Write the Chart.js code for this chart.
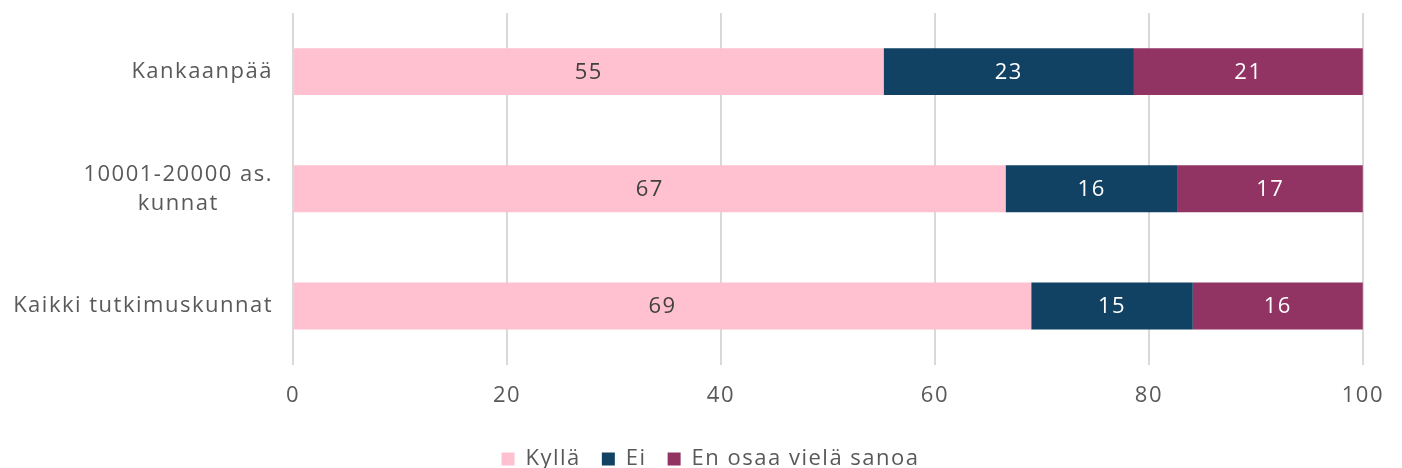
<!DOCTYPE html>
<html>
<head>
<meta charset="utf-8">
<script src="https://cdn.jsdelivr.net/npm/chart.js@4"></script>
<style>
  html, body { margin: 0; padding: 0; background: #fff; }
  #wrap { width: 1402px; height: 468px; }
</style>
</head>
<body>
<div id="wrap"><canvas id="chart"></canvas></div>
<script>
// Categories (multi-line label as array)
const categories = ['Kankaanpää', ['10001-20000 as.', 'kunnat'], 'Kaikki tutkimuskunnat'];

// Series values (percent)
const kyllaValues = [55.2, 66.6, 69.0];
const eiValues = [23.4, 16.1, 15.1];
const eosValues = [21.4, 17.3, 15.9];

const seriesNames = ['Kyllä', 'Ei', 'En osaa vielä sanoa'];
const xTicks = [0, 20, 40, 60, 80, 100];

const textColor = '#595959';
const fontFamily = '"Open Sans", sans-serif';
const fontSize = 22;
const spacing = '1.5px';

// a bit of letter spacing, the original font is wider than Open Sans
const spacingPlugin = {
  id: 'spacing',
  beforeUpdate(chart) { chart.ctx.letterSpacing = spacing; },
  beforeLayout(chart) { chart.ctx.letterSpacing = spacing; },
  beforeDraw(chart) { chart.ctx.letterSpacing = spacing; }
};

// draws the category labels on the left and the value labels inside the bars
const labelPlugin = {
  id: 'labelPlugin',
  afterDatasetsDraw(chart) {
    const ctx = chart.ctx;
    const yScale = chart.scales.y;
    const area = chart.chartArea;
    ctx.save();
    ctx.letterSpacing = spacing;
    ctx.font = fontSize + 'px ' + fontFamily;
    ctx.fillStyle = textColor;
    ctx.textBaseline = 'middle';
    ctx.textAlign = 'center';
    categories.forEach((cat, i) => {
      const lines = Array.isArray(cat) ? cat : [cat];
      const y = yScale.getPixelForTick(i);
      const lh = 29;
      const maxW = Math.max(...lines.map(l => ctx.measureText(l).width));
      const center = area.left - 20 - maxW / 2;
      lines.forEach((l, j) => {
        ctx.fillText(l, center, y + (j - (lines.length - 1) / 2) * lh);
      });
    });

    chart.data.datasets.forEach((ds, di) => {
      const meta = chart.getDatasetMeta(di);
      meta.data.forEach((bar, i) => {
        const props = bar.getProps(['x', 'y', 'base'], true);
        ctx.fillStyle = di === 0 ? '#404040' : '#ffffff';
        ctx.fillText(String(Math.round(ds.data[i])), (props.x + props.base) / 2, props.y + 1);
      });
    });
    ctx.restore();
  }
};

new Chart(document.getElementById('chart'), {
  type: 'bar',
  data: {
    labels: categories,
    datasets: [
      { label: seriesNames[0], data: kyllaValues, backgroundColor: '#ffc0cf' },
      { label: seriesNames[1], data: eiValues, backgroundColor: '#114263' },
      { label: seriesNames[2], data: eosValues, backgroundColor: '#913463' }
    ]
  },
  options: {
    indexAxis: 'y',
    responsive: true,
    maintainAspectRatio: false,
    animation: false,
    layout: { padding: { left: 40, right: 21, top: 13, bottom: -12 } },
    datasets: {
      bar: { categoryPercentage: 0.4, barPercentage: 1.0, borderWidth: 0 }
    },
    scales: {
      x: {
        stacked: true,
        min: 0,
        max: 100,
        afterBuildTicks(axis) { axis.ticks = xTicks.map(v => ({ value: v })); },
        grid: { color: '#d9d9d9', lineWidth: 2, drawTicks: false },
        border: { display: false },
        ticks: { color: textColor, font: { family: fontFamily, size: fontSize }, padding: 18 }
      },
      y: {
        stacked: true,
        // room for the category labels drawn by labelPlugin
        afterFit(scale) { scale.width = 253; },
        grid: { display: false },
        border: { display: false },
        ticks: { display: false }
      }
    },
    plugins: {
      legend: {
        position: 'bottom',
        labels: {
          color: textColor,
          font: { family: fontFamily, size: fontSize },
          boxWidth: 13,
          boxHeight: 13,
          padding: 21
        }
      },
      tooltip: { enabled: false }
    }
  },
  plugins: [spacingPlugin, labelPlugin]
});
</script>
</body>
</html>
